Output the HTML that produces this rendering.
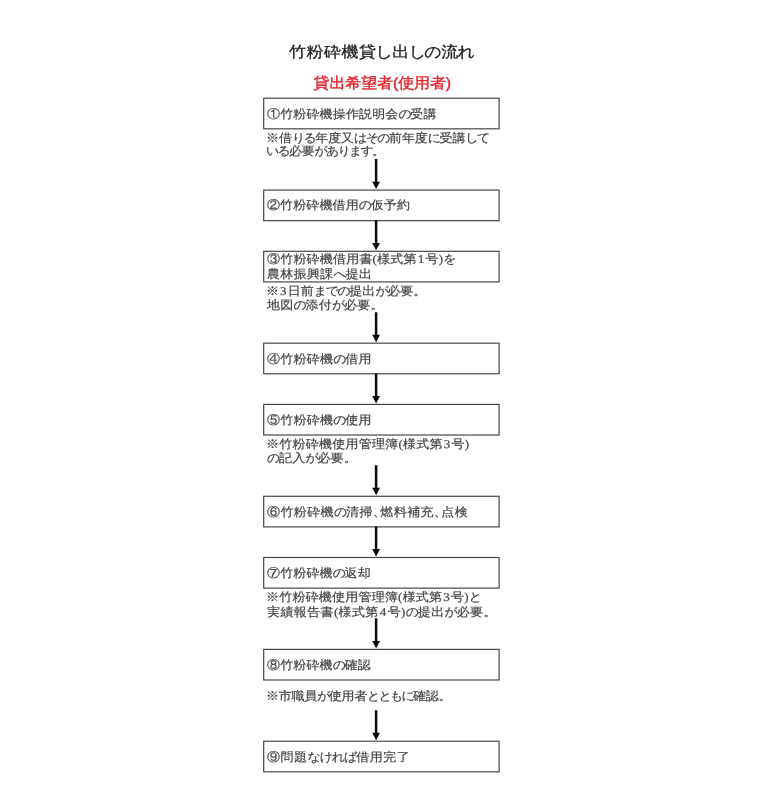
<!DOCTYPE html>
<html lang="ja">
<head>
<meta charset="utf-8">
<title>竹粉砕機貸し出しの流れ</title>
<style>
html,body{margin:0;padding:0;background:#fff;}
body{width:768px;height:800px;position:relative;overflow:hidden;font-family:"Liberation Serif",serif;color:#424242;}
svg{position:absolute;left:0;top:0;}
#txt{position:absolute;left:0;top:0;width:768px;height:800px;will-change:transform;text-rendering:geometricPrecision;font-kerning:none;}
.ln{--a:0px;letter-spacing:var(--a);position:absolute;white-space:nowrap;height:20px;line-height:20px;margin:0;transform:scaleY(0.93);transform-origin:0 10px;}
.t{font-size:13px;-webkit-text-stroke:0.2px #424242;}
.title{font-size:17px;transform:scaleY(0.9);color:#1a1a1a;-webkit-text-stroke:0.3px #1a1a1a;}
.sub{font-size:16px;color:#e9252f;-webkit-text-stroke:0.45px #e9252f;font-family:"Liberation Sans",sans-serif;}
.k{margin:0 -1.1px;}
.h{letter-spacing:calc(var(--a) - 1.6px);}
.c{margin-right:-6px;}
.d{margin:0 1px;}
</style>
</head>
<body>
<svg width="768" height="800" viewBox="0 0 768 800">
<g fill="none" stroke="#404040" stroke-width="1.15">
<rect x="263.70" y="98.20" width="235.40" height="30.62"/>
<rect x="263.70" y="190.06" width="235.40" height="30.62"/>
<rect x="263.70" y="251.30" width="235.40" height="30.62"/>
<rect x="263.70" y="343.16" width="235.40" height="30.62"/>
<rect x="263.70" y="404.40" width="235.40" height="30.62"/>
<rect x="263.70" y="496.26" width="235.40" height="30.62"/>
<rect x="263.70" y="557.50" width="235.40" height="30.62"/>
<rect x="263.70" y="649.36" width="235.40" height="30.62"/>
<rect x="263.70" y="741.22" width="235.40" height="30.62"/>
</g>
<g fill="#0c0c0c" stroke="none">
<path d="M374.85 159.06h2.5V181.66h2.65L376.10 189.06L372.20 181.66h2.65z"/>
<path d="M374.85 220.30h2.5V242.90h2.65L376.10 250.30L372.20 242.90h2.65z"/>
<path d="M374.85 312.16h2.5V334.76h2.65L376.10 342.16L372.20 334.76h2.65z"/>
<path d="M374.85 373.40h2.5V396.00h2.65L376.10 403.40L372.20 396.00h2.65z"/>
<path d="M374.85 465.26h2.5V487.86h2.65L376.10 495.26L372.20 487.86h2.65z"/>
<path d="M374.85 526.50h2.5V549.10h2.65L376.10 556.50L372.20 549.10h2.65z"/>
<path d="M374.85 618.36h2.5V640.96h2.65L376.10 648.36L372.20 640.96h2.65z"/>
<path d="M374.85 710.22h2.5V732.82h2.65L376.10 740.22L372.20 732.82h2.65z"/>
</g>
</svg>
<div id="txt">
<div class="ln title" style="left:289.00px;top:42.00px;--a:0.500px;">竹粉砕機貸<span class="k">し</span>出<span class="k">し</span><span class="k">の</span>流<span class="k">れ</span></div>
<div class="ln sub" style="left:313.50px;top:73.90px;--a:-0.111px;">貸出希望者(使用者)</div>
<div class="ln t" style="left:267.00px;top:104.12px;--a:0.150px;">①竹粉砕機操作説明会<span class="h">の</span>受講</div>
<div class="ln t" style="left:266.00px;top:127.60px;--a:-0.059px;">※借<span class="h">りる</span>年度又<span class="h">はその</span>前年度<span class="h">に</span>受講<span class="h">して</span></div>
<div class="ln t" style="left:266.00px;top:141.10px;--a:-0.222px;"><span class="h">いる</span>必要<span class="h">があります</span>。</div>
<div class="ln t" style="left:267.00px;top:195.34px;--a:0.120px;">②竹粉砕機借用<span class="h">の</span>仮予約</div>
<div class="ln t" style="left:267.00px;top:248.90px;--a:0.200px;">③竹粉砕機借用書(様式第<span class="d">1</span>号)<span class="h">を</span></div>
<div class="ln t" style="left:267.00px;top:263.60px;--a:0.343px;">農林振興課<span class="h">へ</span>提出</div>
<div class="ln t" style="left:266.00px;top:281.04px;--a:0.083px;">※<span class="d">3</span>日前<span class="h">までの</span>提出<span class="h">が</span>必要。</div>
<div class="ln t" style="left:267.00px;top:295.24px;--a:0.250px;">地図<span class="h">の</span>添付<span class="h">が</span>必要。</div>
<div class="ln t" style="left:267.00px;top:348.54px;--a:0.257px;">④竹粉砕機<span class="h">の</span>借用</div>
<div class="ln t" style="left:267.00px;top:410.02px;--a:0.257px;">⑤竹粉砕機<span class="h">の</span>使用</div>
<div class="ln t" style="left:266.00px;top:433.74px;--a:0.250px;">※竹粉砕機使用管理簿(様式第<span class="d">3</span>号)</div>
<div class="ln t" style="left:267.00px;top:448.44px;--a:0.233px;"><span class="h">の</span>記入<span class="h">が</span>必要。</div>
<div class="ln t" style="left:267.00px;top:501.74px;--a:0.400px;">⑥竹粉砕機<span class="h">の</span>清掃<span class="c">、</span>燃料補充<span class="c">、</span>点検</div>
<div class="ln t" style="left:267.00px;top:563.22px;--a:0.143px;">⑦竹粉砕機<span class="h">の</span>返却</div>
<div class="ln t" style="left:266.00px;top:586.94px;--a:0.212px;">※竹粉砕機使用管理簿(様式第<span class="d">3</span>号)<span class="h">と</span></div>
<div class="ln t" style="left:267.00px;top:601.64px;--a:0.378px;">実績報告書(様式第<span class="d">4</span>号)<span class="h">の</span>提出<span class="h">が</span>必要。</div>
<div class="ln t" style="left:267.00px;top:654.94px;--a:0.143px;">⑧竹粉砕機<span class="h">の</span>確認</div>
<div class="ln t" style="left:266.00px;top:685.96px;--a:-0.214px;">※市職員<span class="h">が</span>使用者<span class="h">とともに</span>確認。</div>
<div class="ln t" style="left:267.00px;top:746.66px;--a:0.480px;">⑨問題<span class="h">なければ</span>借用完了</div>
</div>
</body>
</html>
